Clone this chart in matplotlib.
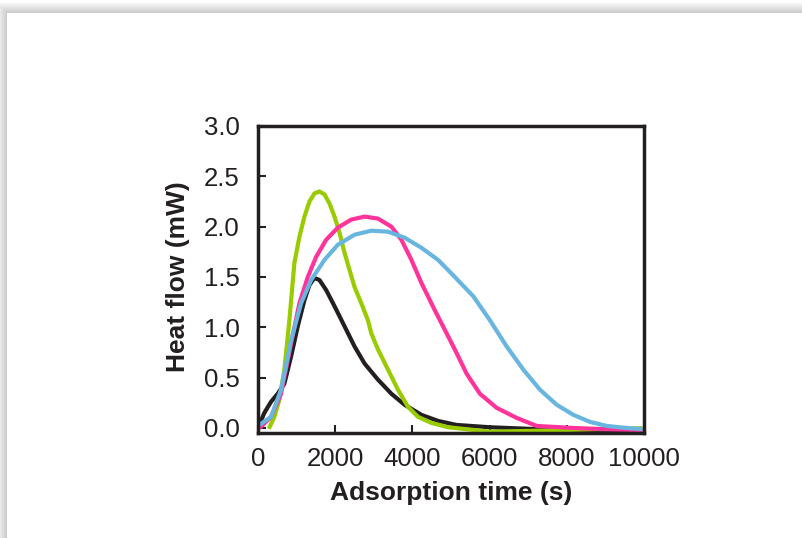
import numpy as np
import matplotlib.pyplot as plt

plt.rcParams['font.family'] = ['Liberation Sans', 'DejaVu Sans']

# heat flow curves (time in s, heat flow in mW)
black_t = [34, 164, 337, 510, 683, 857, 1030, 1203, 1333, 1462, 1592, 1766,
           1982, 2242, 2501, 2761, 3108, 3455, 3800, 4234, 4665, 5143, 6008,
           7306, 8605, 9904]
black_q = [0.03, 0.15, 0.26, 0.34, 0.44, 0.71, 1.01, 1.27, 1.42, 1.49, 1.47, 1.37,
           1.21, 1.01, 0.81, 0.64, 0.48, 0.34, 0.23, 0.13, 0.07, 0.03, 0.007,
           -0.013, -0.03, -0.043]

green_t = [302, 423, 553, 683, 813, 943, 1073, 1203, 1333, 1462, 1592, 1722,
           1852, 1982, 2112, 2242, 2371, 2501, 2675, 2848, 2935, 3108, 3367,
           3626, 3886, 4146, 4493, 4926, 6008, 7306, 8605, 9904]
green_q = [0.01, 0.11, 0.28, 0.58, 1.07, 1.64, 1.90, 2.10, 2.25, 2.33, 2.35, 2.32,
           2.23, 2.10, 1.94, 1.74, 1.57, 1.40, 1.24, 1.07, 0.94, 0.78, 0.58,
           0.38, 0.21, 0.11, 0.05, 0.007, -0.037, -0.027, -0.013, -0.003]

pink_t = [78, 337, 597, 857, 1073, 1290, 1506, 1766, 2069, 2415, 2761, 3108,
          3455, 3714, 3974, 4234, 4580, 4926, 5099, 5403, 5748, 6182, 6701,
          7221, 8171, 9039, 9904]
pink_q = [0.013, 0.11, 0.34, 0.84, 1.24, 1.50, 1.70, 1.87, 1.99, 2.07, 2.10, 2.08,
          2.00, 1.87, 1.67, 1.44, 1.17, 0.91, 0.78, 0.54, 0.34, 0.20, 0.10,
          0.02, 0.0, -0.013, -0.02]

blue_t = [34, 337, 597, 857, 1117, 1377, 1722, 2068, 2501, 2935, 3366, 3800,
          4234, 4665, 5099, 5574, 6008, 6442, 6873, 7306, 7740, 8171, 8605,
          9039, 9470, 9904]
blue_q = [0.03, 0.11, 0.38, 0.87, 1.24, 1.47, 1.67, 1.82, 1.92, 1.96, 1.95, 1.89,
          1.79, 1.67, 1.50, 1.31, 1.07, 0.81, 0.58, 0.38, 0.23, 0.13, 0.06,
          0.02, 0.003, -0.01]

W, H = 803, 538
fig = plt.figure(figsize=(W / 100, H / 100), dpi=100)

# page background with soft shadow on top/left edge
bg = fig.add_axes([0, 0, 1, 1])
yy, xx = np.mgrid[0:H, 0:W]
d = np.maximum(13 - yy, 7 - xx).astype(float)
shade = np.where(d > 0, 0.78 + 0.22 * np.clip(d / 12, 0, 1), 1.0)
bg.imshow(shade, cmap='gray', vmin=0, vmax=1, aspect='auto',
          extent=[0, 1, 0, 1], interpolation='bilinear')
bg.axis('off')

ax = fig.add_axes([258 / W, 1 - 433 / H, 386 / W, 307 / H])
lw = 3.0
ax.plot(black_t, black_q, color='#231f20', lw=lw, solid_joinstyle='round')
ax.plot(green_t, green_q, color='#99cc00', lw=lw, solid_joinstyle='round')
ax.plot(pink_t, pink_q, color='#ff3399', lw=lw, solid_joinstyle='round')
ax.plot(blue_t, blue_q, color='#68b5e0', lw=lw, solid_joinstyle='round')

ax.set_xlim(0, 10000)
ax.set_ylim(-0.05, 3.0)
ax.set_xticks([0, 2000, 4000, 6000, 8000, 10000])
ax.set_yticks(np.arange(0, 3.01, 0.5))
ax.set_yticklabels(['%.1f' % v for v in np.arange(0, 3.01, 0.5)])
ax.tick_params(direction='in', length=6, width=1.5, labelsize=18.5,
               colors='#231f20', pad=10)
ax.tick_params(axis='y', pad=13)
for s in ax.spines.values():
    s.set_linewidth(2.5)
    s.set_color('#231f20')

ax.set_xlabel('Adsorption time (s)', fontsize=19, fontweight='bold',
              color='#231f20', labelpad=7)
ax.set_ylabel('Heat flow (mW)', fontsize=19, fontweight='bold',
              color='#231f20')
ax.yaxis.set_label_coords(-0.175, 0.51)

fig.savefig('out.png', dpi=100)
